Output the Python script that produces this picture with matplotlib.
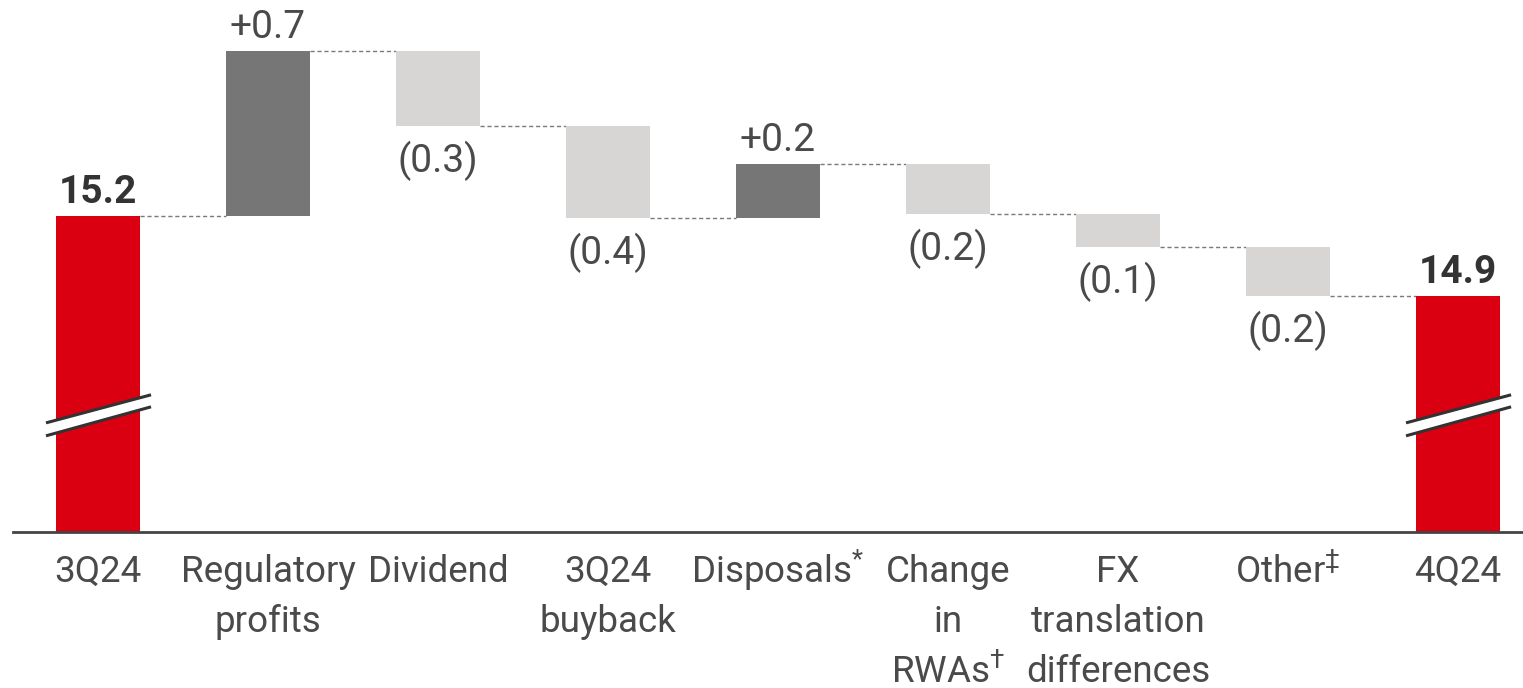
import matplotlib.pyplot as plt
from matplotlib.patches import Polygon
from matplotlib.transforms import blended_transform_factory

# Data
categories = ['3Q24', 'Regulatory\nprofits', 'Dividend', '3Q24\nbuyback', r'Disposals$^{*}$',
              'Change\nin\nRWAs$^{\\dagger}$', 'FX\ntranslation\ndifferences', r'Other$^{\ddagger}$', '4Q24']
start_value = 15.2
end_value = 14.86
deltas = [0.70, -0.32, -0.39, 0.23, -0.21, -0.14, -0.21]
value_labels = ['15.2', '+0.7', '(0.3)', '(0.4)', '+0.2', '(0.2)', '(0.1)', '(0.2)', '14.9']

RED = '#db0011'
DARK = '#767676'
LIGHT = '#d7d6d4'
TXT = '#4a4a4a'

plt.rcParams['font.family'] = ['Roboto', 'DejaVu Sans']
plt.rcParams['mathtext.fontset'] = 'custom'
plt.rcParams['mathtext.rm'] = 'Roboto'
plt.rcParams['mathtext.it'] = 'Roboto'

W, H = 1523, 688
fig = plt.figure(figsize=(W / 100, H / 100), dpi=100)
ax = fig.add_axes([13 / W, 156 / H, 1510 / W, 532 / H])
y0, y1 = 13.859, 16.116
ax.set_xlim(-0.5, 8.382)
ax.set_ylim(y0, y1)

w = 0.49
fs = 28
fs_cat = 26.5
n = len(categories)
px = 72 / 100  # points per pixel

# totals
for i, v in [(0, start_value), (n - 1, end_value)]:
    ax.bar(i, v - y0, bottom=y0, width=w, color=RED, zorder=2)
    ax.annotate(value_labels[i], (i, v), xytext=(0, 13 * px), textcoords='offset points',
                ha='center', va='baseline', fontsize=fs, fontweight='bold', color='#333333')

# steps
level = start_value
levels = [start_value]
for k, d in enumerate(deltas):
    i = k + 1
    bottom = min(level, level + d)
    ax.bar(i, abs(d), bottom=bottom, width=w, color=DARK if d > 0 else LIGHT, zorder=2)
    if d > 0:
        ax.annotate(value_labels[i], (i, level + d), xytext=(0, 13 * px), textcoords='offset points',
                    ha='center', va='baseline', fontsize=fs, color=TXT)
    else:
        ax.annotate(value_labels[i], (i, level + d), xytext=(0, -46 * px), textcoords='offset points',
                    ha='center', va='baseline', fontsize=fs, color=TXT)
    level += d
    levels.append(level)
levels.append(end_value)

# dashed connectors
for i in range(n - 1):
    ax.plot([i + w / 2, i + 1 - w / 2], [levels[i], levels[i]], color='#7a7a7a',
            lw=1, ls=(0, (3, 2)), zorder=1)

# axis breaks on total bars
for i in [0, n - 1]:
    xl, xr = i - 0.306, i + 0.312
    up = (14.322, 14.441)
    lo = (14.267, 14.390)
    ax.add_patch(Polygon([(xl, up[0]), (xr, up[1]), (xr, lo[1]), (xl, lo[0])],
                         closed=True, facecolor='white', edgecolor='none', zorder=3))
    ax.plot([xl, xr], list(up), color='#333333', lw=2.2, zorder=4, solid_capstyle='butt')
    ax.plot([xl, xr], list(lo), color='#333333', lw=2.2, zorder=4, solid_capstyle='butt')

# category labels, one text per line so baselines line up
trans = blended_transform_factory(ax.transData, fig.transFigure)
for i, cat in enumerate(categories):
    for k, line in enumerate(cat.split('\n')):
        ax.text(i, (H - (582 + 50 * k)) / H, line, transform=trans, ha='center', va='baseline',
                fontsize=fs_cat, color=TXT, clip_on=False)

ax.set_xticks([])
ax.set_yticks([])
for s in ['top', 'left', 'right']:
    ax.spines[s].set_visible(False)
ax.spines['bottom'].set_color('#444444')
ax.spines['bottom'].set_linewidth(2)

fig.savefig('out.png', dpi=100)
